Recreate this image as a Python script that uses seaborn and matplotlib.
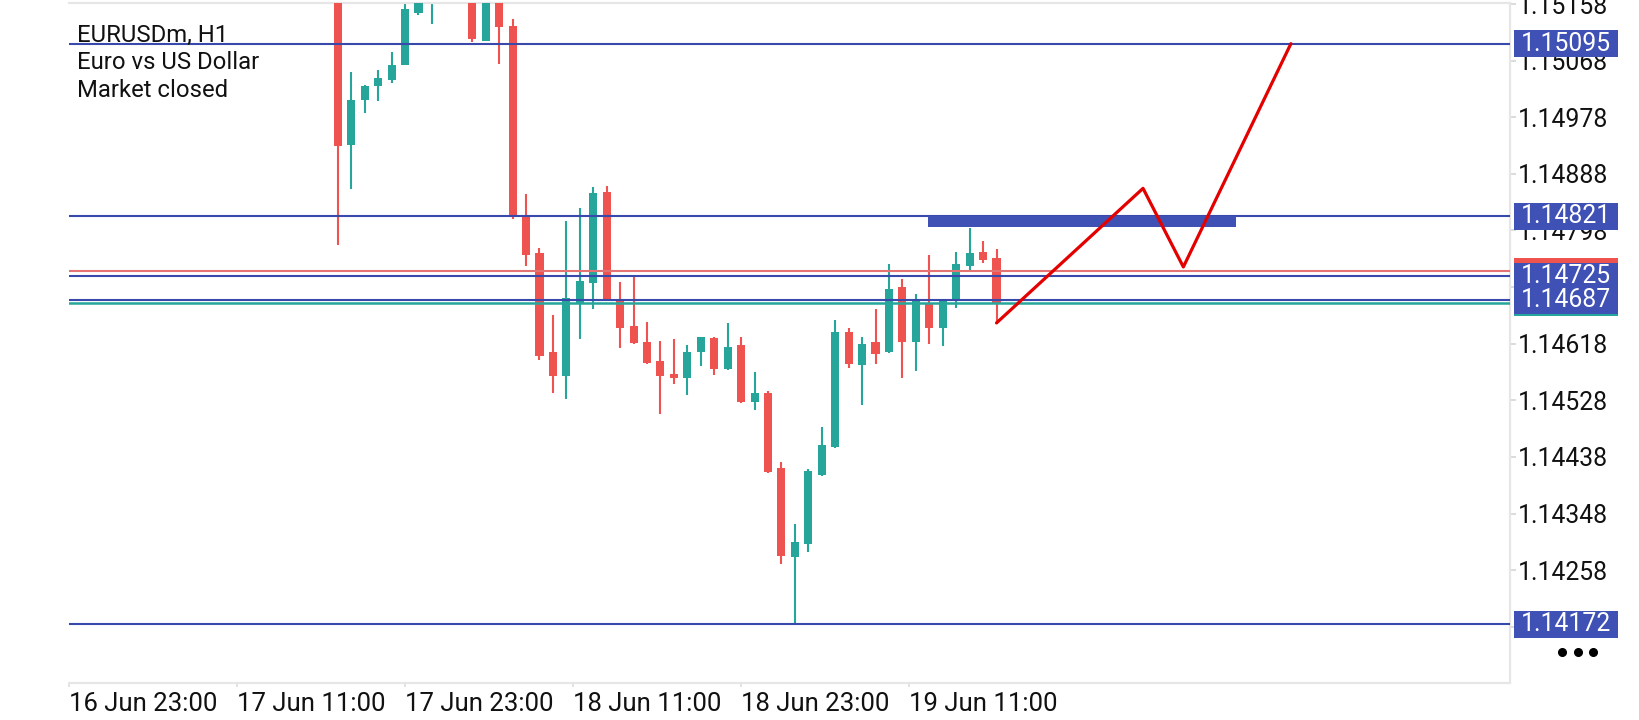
import matplotlib
matplotlib.use("Agg")
import matplotlib.pyplot as plt
import matplotlib.transforms as mtransforms
from matplotlib.patches import Rectangle
from matplotlib.lines import Line2D
import pandas as pd
import seaborn as sns

# H1 candles, EURUSDm (bar 0 = first candle visible at the top left)
opens = [1.15200, 1.14934, 1.15006, 1.15028, 1.15037, 1.15061, 1.15144, 1.15175, 1.15190, 1.15215,
         1.15188, 1.15100, 1.15180, 1.15123, 1.14820, 1.14762, 1.14604, 1.14566, 1.14682, 1.14715,
         1.14859, 1.14689, 1.14646, 1.14621, 1.14591, 1.14570, 1.14564, 1.14605, 1.14627, 1.14577,
         1.14616, 1.14525, 1.14540, 1.14420, 1.14279, 1.14300, 1.14409, 1.14454, 1.14637, 1.14584,
         1.14620, 1.14605, 1.14708, 1.14620, 1.14683, 1.14643, 1.14688, 1.14742, 1.14763, 1.14755]
highs = [1.15215, 1.15050, 1.15029, 1.15053, 1.15081, 1.15165, 1.15180, 1.15205, 1.15235, 1.15240,
         1.15200, 1.15195, 1.15190, 1.15135, 1.14856, 1.14770, 1.14664, 1.14813, 1.14833, 1.14867,
         1.14869, 1.14716, 1.14728, 1.14652, 1.14622, 1.14625, 1.14616, 1.14629, 1.14628, 1.14651,
         1.14628, 1.14573, 1.14542, 1.14430, 1.14331, 1.14418, 1.14486, 1.14656, 1.14643, 1.14629,
         1.14673, 1.14745, 1.14721, 1.14697, 1.14759, 1.14689, 1.14763, 1.14802, 1.14782, 1.14768]
lows = [1.14775, 1.14864, 1.14985, 1.15004, 1.15032, 1.15061, 1.15140, 1.15126, 1.15172, 1.15176,
        1.15098, 1.15100, 1.15062, 1.14816, 1.14742, 1.14592, 1.14539, 1.14530, 1.14625, 1.14673,
        1.14686, 1.14611, 1.14617, 1.14585, 1.14507, 1.14554, 1.14536, 1.14583, 1.14568, 1.14576,
        1.14523, 1.14513, 1.14412, 1.14268, 1.14172, 1.14286, 1.14407, 1.14452, 1.14580, 1.14521,
        1.14586, 1.14603, 1.14564, 1.14574, 1.14618, 1.14615, 1.14674, 1.14734, 1.14746, 1.14651]
closes = [1.14933, 1.15006, 1.15028, 1.15041, 1.15061, 1.15150, 1.15172, 1.15190, 1.15215, 1.15188,
          1.15102, 1.15180, 1.15121, 1.14820, 1.14759, 1.14599, 1.14566, 1.14690, 1.14718, 1.14857,
          1.14688, 1.14643, 1.14619, 1.14587, 1.14567, 1.14563, 1.14604, 1.14628, 1.14577, 1.14612,
          1.14526, 1.14539, 1.14414, 1.14281, 1.14303, 1.14416, 1.14457, 1.14637, 1.14586, 1.14618,
          1.14602, 1.14705, 1.14621, 1.14688, 1.14643, 1.14688, 1.14745, 1.14762, 1.14751, 1.14683]

levels = [1.15095, 1.14821, 1.14725, 1.14687, 1.14172]
ask_price = 1.14733
bid_price = 1.14683

zone_start, zone_end = 43.9, 66.85
zone_low, zone_high = 1.14803, 1.14821

path_x = [49, 59.9, 62.9, 70.9]
path_y = [1.14651, 1.14865, 1.14740, 1.15095]

price_ticks = [1.15158, 1.15068, 1.14978, 1.14888, 1.14798, 1.14708,
               1.14618, 1.14528, 1.14438, 1.14348, 1.14258, 1.14168]
# 1.14708 and 1.14168 sit fully under the price tags
hidden_ticks = [1.14708, 1.14168]
time_ticks = [-20, -7.5, 5, 17.5, 30, 42.5]
time_labels = ["16 Jun 23:00", "17 Jun 11:00", "17 Jun 23:00",
               "18 Jun 11:00", "18 Jun 23:00", "19 Jun 11:00"]

UP = "#26A69A"
DOWN = "#EF5350"
LEVEL = "#3949AB"
TAG = "#3F51B5"

df = pd.DataFrame({"open": opens, "high": highs, "low": lows, "close": closes})
df["bar"] = range(len(df))
df["up"] = df["close"] >= df["open"]
df["color"] = df["up"].map({True: UP, False: DOWN})
df["bottom"] = df[["open", "close"]].min(axis=1)
df["height"] = (df["close"] - df["open"]).abs()

sns.set_theme(style="white")
plt.rcParams["font.family"] = ["Roboto", "DejaVu Sans"]

fig, ax = plt.subplots(figsize=(16.4, 7.2), dpi=100)
fig.subplots_adjust(left=69 / 1640, right=1510 / 1640, bottom=1 - 683 / 720, top=1 - 3 / 720)

# candles
ax.vlines(df["bar"], df["low"], df["high"], colors=df["color"], linewidth=1.5, zorder=2)
ax.bar(df["bar"], df["height"], bottom=df["bottom"], width=0.6, color=df["color"],
       linewidth=0, zorder=3)

# horizontal levels, ask / bid
ax.axhline(ask_price, color="#E57373", linewidth=1.5, zorder=4)
ax.axhline(bid_price, color=UP, linewidth=1.8, zorder=4)
for lv in levels:
    ax.axhline(lv, color=LEVEL, linewidth=1.5, zorder=4)

# zone rectangle and zig-zag projection
ax.add_patch(Rectangle((zone_start, zone_low), zone_end - zone_start, zone_high - zone_low,
                       color=TAG, linewidth=0, zorder=5))
sns.lineplot(x=path_x, y=path_y, sort=False, estimator=None, color="#E50000",
             linewidth=2.3, ax=ax, zorder=6)

ax.set_xlim(-20.0, 87.2)
ax.set_ylim(1.140785, 1.151597)

# axes look
for side in ["top", "right", "bottom"]:
    ax.spines[side].set_color("#E6E6E6")
    ax.spines[side].set_linewidth(1.6)
ax.spines["left"].set_visible(False)

ax.yaxis.tick_right()
ax.set_yticks(price_ticks)
ax.set_yticklabels(["" if v in hidden_ticks else f"{v:.5f}" for v in price_ticks])
ax.tick_params(axis="y", which="both", left=False, right=True, direction="out",
               length=4.5, width=1.2, color="#D5D5D5", pad=1.5, labelsize=17.8,
               labelcolor="#111111")

ax.set_xticks(time_ticks)
ax.set_xticklabels(time_labels, ha="left")
ax.tick_params(axis="x", which="both", bottom=True, direction="out", length=3,
               width=1.2, color="#DDDDDD", pad=3.5, labelsize=18.5, labelcolor="#111111")
ax.set_xlabel("")
ax.set_ylabel("")

# price tags on the right
trans = mtransforms.blended_transform_factory(ax.transAxes, ax.transData)
tag_h = 27 / 62875
tag_x = 1.0028
tag_w = 0.0722


def price_tag(value, color, z, show_text=True):
    ax.add_patch(Rectangle((tag_x, value - tag_h / 2), tag_w, tag_h, transform=trans,
                           color=color, linewidth=0, clip_on=False, zorder=z))
    if show_text:
        ax.text(tag_x + tag_w / 2, value, f"{value:.5f}", transform=trans, ha="center",
                va="center", color="white", fontsize=17.8, clip_on=False, zorder=z + 0.1)


price_tag(ask_price, DOWN, 7, show_text=False)
price_tag(bid_price, UP, 7, show_text=False)
for lv in levels:
    price_tag(lv, TAG, 8)

# symbol info, top left
info = ["EURUSDm, H1", "Euro vs US Dollar", "Market closed"]
for i, line in enumerate(info):
    fig.text(77 / 1640, 1 - (41.7 + 27.5 * i) / 720, line, fontsize=17.2,
             color="#111111", va="baseline", ha="left")

# menu dots under the price scale
fig.add_artist(Line2D([1562 / 1640, 1578 / 1640, 1593 / 1640], [1 - 652 / 720] * 3,
                      transform=fig.transFigure, linestyle="none", marker="o",
                      markersize=5.5, color="black"))

fig.savefig("out.png", dpi=100)
